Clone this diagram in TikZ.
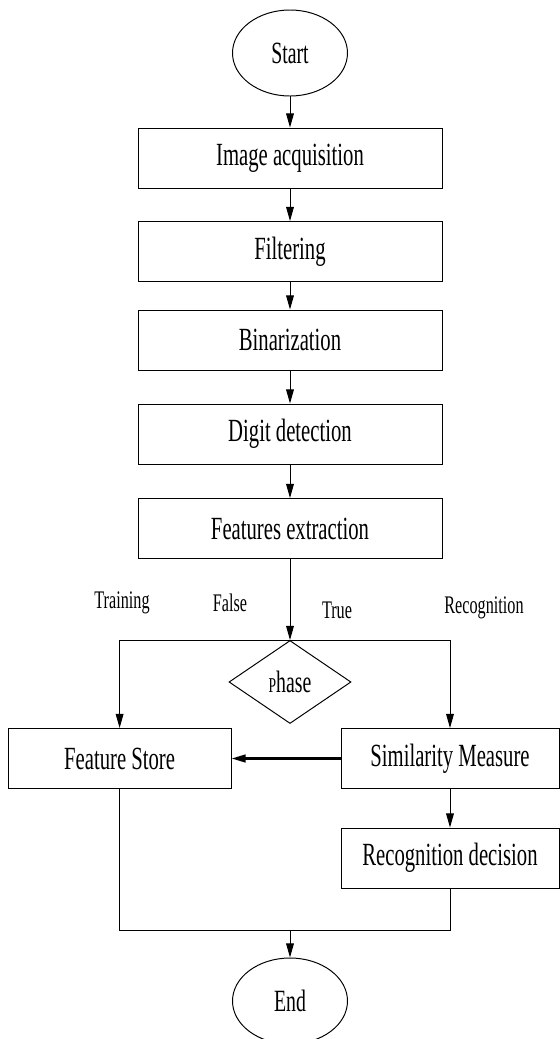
\documentclass[tikz,border=0pt]{standalone}
\usepackage{fontspec}
\setmainfont[FakeStretch=0.64]{Liberation Serif}
\usetikzlibrary{shapes.geometric,arrows.meta}

\newcommand\boxfont{\fontsize{23}{26}\selectfont}
\newcommand\labfont{\fontsize{18}{20}\selectfont}
\newcommand\termfont{\fontsize{22}{25}\selectfont}

\begin{document}
\begin{tikzpicture}[line width=0.7pt,
    box/.style={draw, rectangle, minimum width=7.6cm, minimum height=1.5cm, inner sep=0pt, font=\boxfont},
    sidebox/.style={box, minimum width=5.45cm},
    term/.style={draw, ellipse, minimum width=2.875cm, minimum height=2.15cm, inner sep=0pt, font=\termfont},
    test/.style={draw, diamond, minimum width=3.05cm, minimum height=2.075cm, inner sep=0pt, font=\termfont},
    lab/.style={font=\labfont},
    arr/.style={-{Triangle[length=10pt,width=5.5pt]}}]
    \useasboundingbox (0,0) rectangle (14,-25.975);

    \node[term] (start) at (7.25,-1.325) {Start};
    \node[box] (acq) at (7.25,-3.95) {Image acquisition};
    \node[box] (filt) at (7.25,-6.2875) {Filtering};
    \node[box] (bin) at (7.25,-8.5) {Binarization};
    \node[box] (digit) at (7.25,-10.85) {Digit detection};
    \node[box] (feat) at (7.25,-13.2125) {Features extraction};

    \node[test] (phase) at (7.25,-17.05) {{\fontsize{15}{18}\selectfont P}hase};
    \node[lab] (train) at (3.05,-15.075) {Training};
    \node[lab] (false) at (5.75,-15.075) {False};
    \node[lab] (true) at (8.425,-15.25) {True};
    \node[lab] (recog) at (12.1,-15.2) {Recognition};

    \node[sidebox, minimum width=5.575cm] (store) at (2.99,-18.9625) {Feature Store};
    \node[sidebox] (simil) at (11.25,-18.9625) {Similarity Measure};
    \node[sidebox] (decis) at (11.25,-21.45) {Recognition decision};

    \coordinate (join) at (7.25,-23.25);
    \node[term] (end) at (7.25,-25.025) {End};

    \draw[arr] (start) -- (acq);
    \draw[arr] (acq) -- (filt);
    \draw[arr] (filt) -- (bin);
    \draw[arr] (bin) -- (digit);
    \draw[arr] (digit) -- (feat);
    \draw[arr] (feat) -- (phase.north);
    \draw[arr] (phase.north) -| (store);
    \draw[arr] (phase.north) -| (simil);
    \draw[arr, line width=1.5pt] (simil) -- (store);
    \draw[arr] (simil) -- (decis);
    \draw (store) |- (join) -| (decis);
    \draw[arr] (join) -- (end);
\end{tikzpicture}
\end{document}
